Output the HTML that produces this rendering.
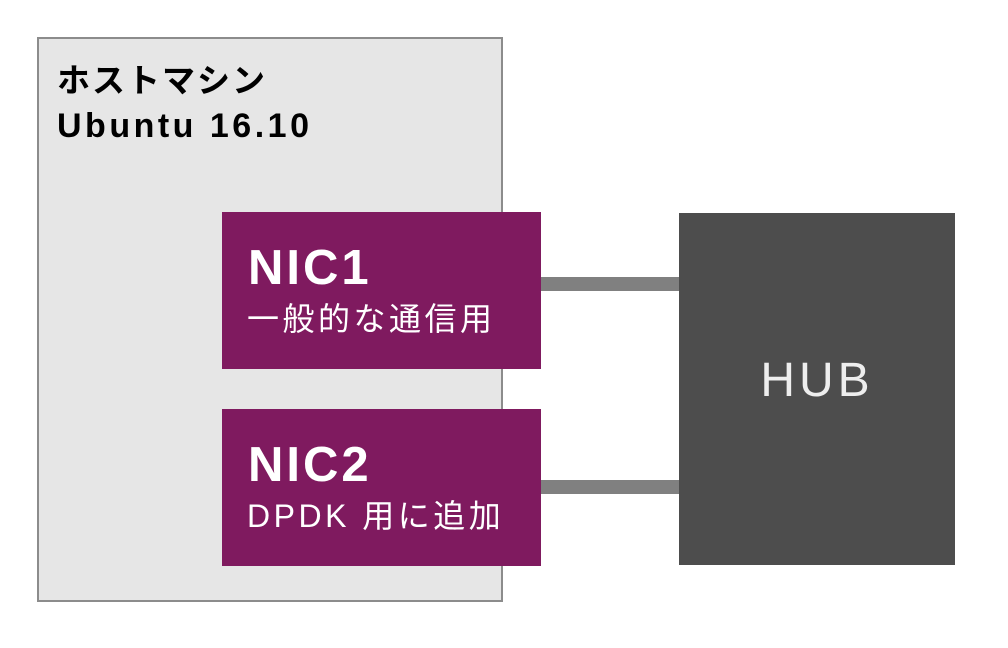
<!DOCTYPE html>
<html><head><meta charset="utf-8"><style>
body{margin:0;width:1008px;height:648px;background:#fff;position:relative;overflow:hidden;font-family:"Liberation Sans","Noto Sans CJK JP",sans-serif}
div{position:absolute;box-sizing:border-box;white-space:nowrap}
.host{left:37px;top:37px;width:466px;height:565px;background:#e6e6e6;border:2px solid #8c8c8c}
.t1{left:57px;top:59px;font-size:33px;font-weight:bold;line-height:43px;color:#000;letter-spacing:2px}
.t2{left:57px;top:105px;font-size:34px;font-weight:bold;line-height:43px;color:#000;letter-spacing:3.5px}
.nic{left:222px;width:319px;height:157px;background:#7f1a5f;color:#fff}
.nic .a{left:26px;top:28px;font-size:49px;line-height:56px;font-weight:bold;letter-spacing:3px}
.nic .b{left:25px;top:89px;font-size:32px;line-height:36px;letter-spacing:3.5px}
.ln{left:541px;width:138px;height:14px;background:#808080}
.hub{left:679px;top:213px;width:276px;height:352px;background:#4d4d4d;color:#eee;font-size:48px;text-align:center;line-height:336px;letter-spacing:4px}
</style></head><body>
<div class="host"></div>
<div class="t1">ホストマシン</div>
<div class="t2">Ubuntu 16.10</div>
<div class="nic" style="top:212px"><div class="a">NIC1</div><div class="b">一般的な通信用</div></div>
<div class="nic" style="top:409px"><div class="a">NIC2</div><div class="b" style="letter-spacing:3.5px">DPDK 用に追加</div></div>
<div class="ln" style="top:277px"></div>
<div class="ln" style="top:480px"></div>
<div class="hub">HUB</div>
</body></html>
